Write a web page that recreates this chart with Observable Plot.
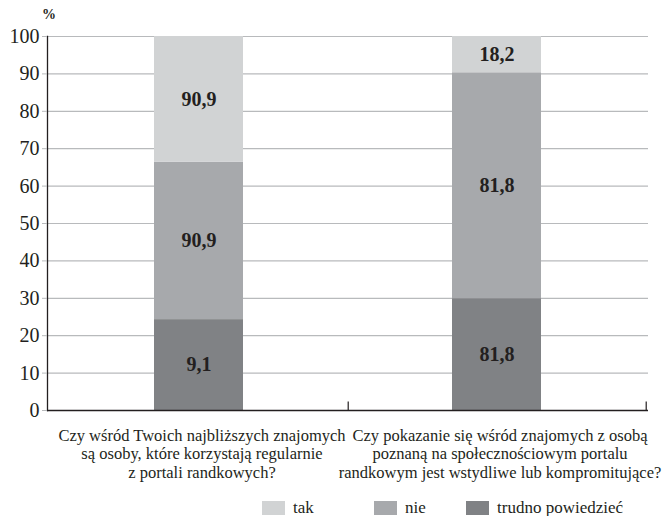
<!DOCTYPE html>
<html>
<head>
<meta charset="utf-8">
<script src="https://cdn.jsdelivr.net/npm/d3@7"></script>
<script src="https://cdn.jsdelivr.net/npm/@observablehq/plot@0.6"></script>
<style>
  html, body { margin: 0; padding: 0; background: #fff; }
  #chart { position: relative; width: 662px; height: 516px; font-family: "Liberation Serif", "Times New Roman", serif; color: #231f20; }
  #chart svg { display: block; }
  .legend { position: absolute; left: 0; top: 499px; width: 662px; height: 17px; }
  .legend .item { position: absolute; top: 0; display: flex; align-items: center; font-size: 17px; line-height: 17px; white-space: nowrap; }
  .legend .sw { width: 23px; height: 14px; margin-right: 8px; }
  .pct { position: absolute; left: 42px; top: 7px; font-size: 14px; font-weight: bold; }
</style>
</head>
<body>
<div id="chart"></div>
<script>
// Survey questions (category axis)
const questions = [
  "Czy wśród Twoich najbliższych znajomych\nsą osoby, które korzystają regularnie\nz portali randkowych?",
  "Czy pokazanie się wśród znajomych z osobą\npoznaną na społecznościowym portalu\nrandkowym jest wstydliwe lub kompromitujące?"
];

// Answer series and their fills
const answers = ["tak", "nie", "trudno powiedzieć"];
const answerColors = ["#d1d3d4", "#a7a9ac", "#808285"];

// Segment heights (%) per question
const takValues = [33.6, 9.7];
const nieValues = [42.1, 60.4];
const trudnoValues = [24.3, 29.9];

// Printed value labels per question
const takLabels = ["90,9", "18,2"];
const nieLabels = ["90,9", "81,8"];
const trudnoLabels = ["9,1", "81,8"];

// Y axis ticks
const yTicks = [0, 10, 20, 30, 40, 50, 60, 70, 80, 90, 100];

// Rows, listed from bottom segment to top segment
const series = [
  {answer: "trudno powiedzieć", values: trudnoValues, labels: trudnoLabels},
  {answer: "nie", values: nieValues, labels: nieLabels},
  {answer: "tak", values: takValues, labels: takLabels}
];
const rows = series.flatMap(s => questions.map((q, i) => ({
  question: q, answer: s.answer, value: s.values[i], label: s.labels[i]
})));
const stackOrder = series.map(s => s.answer);

// Layout
const W = 662, H = 490;
const mL = 47, mR = 14, mT = 36, mB = 80;
const padIn = 0.7, padOut = 0.357;
const step = (W - mL - mR) / (questions.length - padIn + 2 * padOut);
const dark = "#231f20";

const plot = Plot.plot({
  width: W,
  height: H,
  marginLeft: mL,
  marginRight: mR,
  marginTop: mT,
  marginBottom: mB,
  style: {fontFamily: "'Liberation Serif', 'Times New Roman', serif", color: dark, background: "#fff", overflow: "visible"},
  x: {domain: questions, paddingInner: padIn, paddingOuter: padOut, label: null},
  y: {domain: [0, 100], label: null},
  color: {domain: answers, range: answerColors},
  marks: [
    // horizontal gridlines
    Plot.ruleY(yTicks, {stroke: "#b8babc", strokeWidth: 1.2}),
    // stacked bars
    Plot.barY(rows, {x: "question", y: "value", fill: "answer", order: stackOrder}),
    // value labels in segment middles
    Plot.text(rows, Plot.stackY({
      x: "question", y: "value", z: "answer", order: stackOrder,
      text: "label", fontSize: 20, fontWeight: "bold", fill: dark
    })),
    // left axis line
    Plot.frame({anchor: "left", stroke: dark, strokeWidth: 1.3}),
    // baseline
    Plot.ruleY([0], {stroke: dark, strokeWidth: 1.5}),
    // category boundary ticks
    Plot.ruleX(questions, {x: d => d, dx: step / 2, y1: 0, y2: 2.3, stroke: dark, strokeWidth: 1.2}),
    Plot.axisY({ticks: yTicks, tickSize: 5, tickPadding: 3, fontSize: 20, label: null, stroke: "#b8babc", fill: dark}),
    Plot.axisX({tickSize: 0, tickPadding: 17, fontSize: 16.5, lineHeight: 1.12, dx: 3, label: null, fill: dark})
  ]
});

const chart = document.getElementById("chart");
chart.appendChild(plot);

// "%" unit label above the y axis
const pct = document.createElement("div");
pct.className = "pct";
pct.textContent = "%";
chart.appendChild(pct);

// Legend below the chart
const legend = document.createElement("div");
legend.className = "legend";
const legendLeft = [262, 374, 466];
answers.forEach((a, i) => {
  const item = document.createElement("div");
  item.className = "item";
  item.style.left = legendLeft[i] + "px";
  const sw = document.createElement("span");
  sw.className = "sw";
  sw.style.background = answerColors[i];
  const t = document.createElement("span");
  t.textContent = a;
  item.append(sw, t);
  legend.appendChild(item);
});
chart.appendChild(legend);
</script>
</body>
</html>
